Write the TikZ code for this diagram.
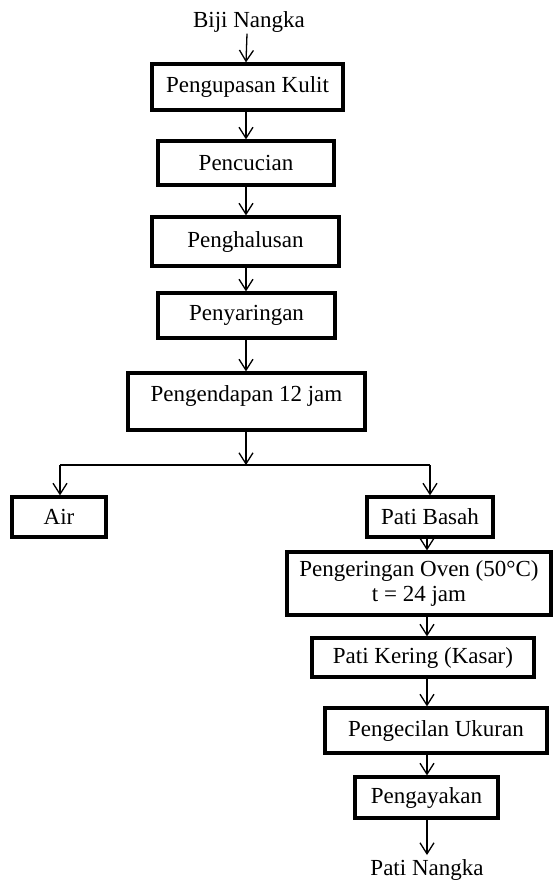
\documentclass[tikz,border=0pt]{standalone}
\usepackage{fontspec}
\setmainfont{Liberation Serif}
\usetikzlibrary{arrows.meta}
\begin{document}
\begin{tikzpicture}[x=1pt,y=-1pt,
  box/.style={draw, line width=3.2pt, inner sep=0pt, align=center, font=\fontsize{23}{25}\selectfont},
  lbl/.style={inner sep=1pt, font=\fontsize{23}{25}\selectfont},
  arr/.style={line width=1.3pt, -{Straight Barb[length=11pt,width=14pt,line width=1.3pt]}},
  ln/.style={line width=1.3pt}]
\useasboundingbox[fill=white] (0,0) rectangle (553,881);
% column x positions
\coordinate (xa) at (246,0);
\coordinate (xb) at (427,0);
% nodes
\node[lbl] (bn) at (249,22) {Biji Nangka};
\node[box, minimum width=191pt, minimum height=46pt] (b1) at (247.5,87) {Pengupasan Kulit};
\node[box, minimum width=176pt, minimum height=44pt] (b2) at (246,163) {Pencucian};
\node[box, minimum width=187pt, minimum height=49pt] (b3) at (245.5,241.5) {Penghalusan};
\node[box, minimum width=177pt, minimum height=45pt] (b4) at (246.5,315.5) {Penyaringan};
\node[box, minimum width=237pt, minimum height=57pt, text height=15pt, text depth=15pt] (b5) at (246.5,401.5) {Pengendapan 12 jam};
\coordinate (sp) at (246,465);
\coordinate (sl) at (60,465);
\coordinate (sr) at (430,465);
\node[box, minimum width=94pt, minimum height=40pt] (air) at (59,517) {Air};
\node[box, minimum width=126pt, minimum height=40pt] (pb) at (430,517) {Pati Basah};
\node[box, minimum width=264pt, minimum height=63pt] (ov) at (419,583.5) {Pengeringan Oven (50°C)\\ t = 24 jam};
\node[box, minimum width=222pt, minimum height=39pt] (pk) at (423,657.5) {Pati Kering (Kasar)};
\node[box, minimum width=222pt, minimum height=45pt] (pu) at (436,730.5) {Pengecilan Ukuran};
\node[box, minimum width=143pt, minimum height=41pt] (pg) at (426.5,797.5) {Pengayakan};
\node[lbl] (pn) at (427,870) {Pati Nangka};
\coordinate (pe) at (427,855);
% connectors
\draw[arr] (bn.south -| xa) ++(1,0) -- (b1.north -| xa);
\draw[arr] (b1.south -| xa) -- (b2.north -| xa);
\draw[arr] (b2.south -| xa) -- (b3.north -| xa);
\draw[arr] (b3.south -| xa) -- (b4.north -| xa);
\draw[arr] (b4.south -| xa) -- (b5.north -| xa);
\draw[arr] (b5.south -| xa) -- (sp);
\draw[ln] (sl) -- (sr);
\draw[arr] (sl) -- (air.north -| sl);
\draw[arr] (sr) -- (pb.north -| sr);
\draw[arr] (pb.south -| xb) -- (ov.north -| xb);
\draw[arr] (ov.south -| xb) -- (pk.north -| xb);
\draw[arr] (pk.south -| xb) -- (pu.north -| xb);
\draw[arr] (pu.south -| xb) -- (pg.north -| xb);
\draw[arr] (pg.south -| xb) -- (pe);
\end{tikzpicture}
\end{document}
